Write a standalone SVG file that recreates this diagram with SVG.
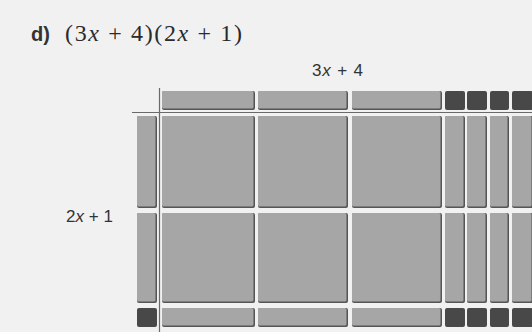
<svg xmlns="http://www.w3.org/2000/svg" width="532" height="332" viewBox="0 0 532 332">
<style>
.s{fill:#555}
.l{fill:#a6a6a6}
.d{fill:#484848}
.ax{stroke:#6a6a6a;stroke-width:1.2;fill:none}
.t{font-family:"Liberation Sans",Arial,sans-serif;fill:#333}
</style>
<rect width="532" height="332" fill="#f1f1f1"/>
<text x="31" y="41" class="t" font-size="20" font-weight="bold" fill="#222">d)</text>
<text x="65" y="41" font-family="'Liberation Serif','Times New Roman',serif" font-size="24" fill="#2a2a2a" textLength="177" lengthAdjust="spacing">(3<tspan font-style="italic">x</tspan> + 4)(2<tspan font-style="italic">x</tspan> + 1)</text>
<text x="312" y="76" class="t" font-size="17" textLength="51" lengthAdjust="spacing">3<tspan font-style="italic">x</tspan> + 4</text>
<text x="66" y="222" class="t" font-size="17" textLength="47" lengthAdjust="spacing">2<tspan font-style="italic">x</tspan> + 1</text>
<g id="connectors">
<line class="ax" x1="159.5" y1="88" x2="159.5" y2="332"/>
<line class="ax" x1="132" y1="112.5" x2="532" y2="112.5"/>
</g>
<!-- top row -->
<g id="top-x1"><rect class="s" x="162" y="91" width="93" height="19" rx="2"/><rect class="l" x="162" y="91" width="91.5" height="17.5" rx="1.5"/></g>
<g id="top-x2"><rect class="s" x="258" y="91" width="90" height="19" rx="2"/><rect class="l" x="258" y="91" width="88.5" height="17.5" rx="1.5"/></g>
<g id="top-x3"><rect class="s" x="352" y="91" width="90" height="19" rx="2"/><rect class="l" x="352" y="91" width="88.5" height="17.5" rx="1.5"/></g>
<g id="top-u1"><rect class="d" x="445" y="91" width="20" height="19" rx="2"/></g>
<g id="top-u2"><rect class="d" x="467" y="91" width="20" height="19" rx="2"/></g>
<g id="top-u3"><rect class="d" x="490" y="91" width="19" height="19" rx="2"/></g>
<g id="top-u4"><rect class="d" x="512" y="91" width="21" height="19" rx="2"/></g>
<!-- left column -->
<g id="left-x1"><rect class="s" x="137" y="116" width="20" height="92" rx="2"/><rect class="l" x="137" y="116" width="18.5" height="90.5" rx="1.5"/></g>
<g id="left-x2"><rect class="s" x="137" y="213" width="20" height="90" rx="2"/><rect class="l" x="137" y="213" width="18.5" height="88.5" rx="1.5"/></g>
<g id="left-u"><rect class="d" x="137" y="308" width="20" height="19" rx="2"/></g>
<!-- row 1 -->
<g id="r1-c1"><rect class="s" x="162" y="116" width="93" height="92" rx="2"/><rect class="l" x="162" y="116" width="91.5" height="90.5" rx="1.5"/></g>
<g id="r1-c2"><rect class="s" x="258" y="116" width="90" height="92" rx="2"/><rect class="l" x="258" y="116" width="88.5" height="90.5" rx="1.5"/></g>
<g id="r1-c3"><rect class="s" x="352" y="116" width="90" height="92" rx="2"/><rect class="l" x="352" y="116" width="88.5" height="90.5" rx="1.5"/></g>
<g id="r1-u1"><rect class="s" x="445" y="116" width="20" height="92" rx="2"/><rect class="l" x="445" y="116" width="18.5" height="90.5" rx="1.5"/></g>
<g id="r1-u2"><rect class="s" x="467" y="116" width="20" height="92" rx="2"/><rect class="l" x="467" y="116" width="18.5" height="90.5" rx="1.5"/></g>
<g id="r1-u3"><rect class="s" x="490" y="116" width="19" height="92" rx="2"/><rect class="l" x="490" y="116" width="17.5" height="90.5" rx="1.5"/></g>
<g id="r1-u4"><rect class="s" x="512" y="116" width="21" height="92" rx="2"/><rect class="l" x="512" y="116" width="19.5" height="90.5" rx="1.5"/></g>
<!-- row 2 -->
<g id="r2-c1"><rect class="s" x="162" y="213" width="93" height="90" rx="2"/><rect class="l" x="162" y="213" width="91.5" height="88.5" rx="1.5"/></g>
<g id="r2-c2"><rect class="s" x="258" y="213" width="90" height="90" rx="2"/><rect class="l" x="258" y="213" width="88.5" height="88.5" rx="1.5"/></g>
<g id="r2-c3"><rect class="s" x="352" y="213" width="90" height="90" rx="2"/><rect class="l" x="352" y="213" width="88.5" height="88.5" rx="1.5"/></g>
<g id="r2-u1"><rect class="s" x="445" y="213" width="20" height="90" rx="2"/><rect class="l" x="445" y="213" width="18.5" height="88.5" rx="1.5"/></g>
<g id="r2-u2"><rect class="s" x="467" y="213" width="20" height="90" rx="2"/><rect class="l" x="467" y="213" width="18.5" height="88.5" rx="1.5"/></g>
<g id="r2-u3"><rect class="s" x="490" y="213" width="19" height="90" rx="2"/><rect class="l" x="490" y="213" width="17.5" height="88.5" rx="1.5"/></g>
<g id="r2-u4"><rect class="s" x="512" y="213" width="21" height="90" rx="2"/><rect class="l" x="512" y="213" width="19.5" height="88.5" rx="1.5"/></g>
<!-- bottom row -->
<g id="b-c1"><rect class="s" x="162" y="308" width="93" height="19" rx="2"/><rect class="l" x="162" y="308" width="91.5" height="17.5" rx="1.5"/></g>
<g id="b-c2"><rect class="s" x="258" y="308" width="90" height="19" rx="2"/><rect class="l" x="258" y="308" width="88.5" height="17.5" rx="1.5"/></g>
<g id="b-c3"><rect class="s" x="352" y="308" width="90" height="19" rx="2"/><rect class="l" x="352" y="308" width="88.5" height="17.5" rx="1.5"/></g>
<g id="b-u1"><rect class="d" x="445" y="308" width="20" height="19" rx="2"/></g>
<g id="b-u2"><rect class="d" x="467" y="308" width="20" height="19" rx="2"/></g>
<g id="b-u3"><rect class="d" x="490" y="308" width="19" height="19" rx="2"/></g>
<g id="b-u4"><rect class="d" x="512" y="308" width="21" height="19" rx="2"/></g>
</svg>
